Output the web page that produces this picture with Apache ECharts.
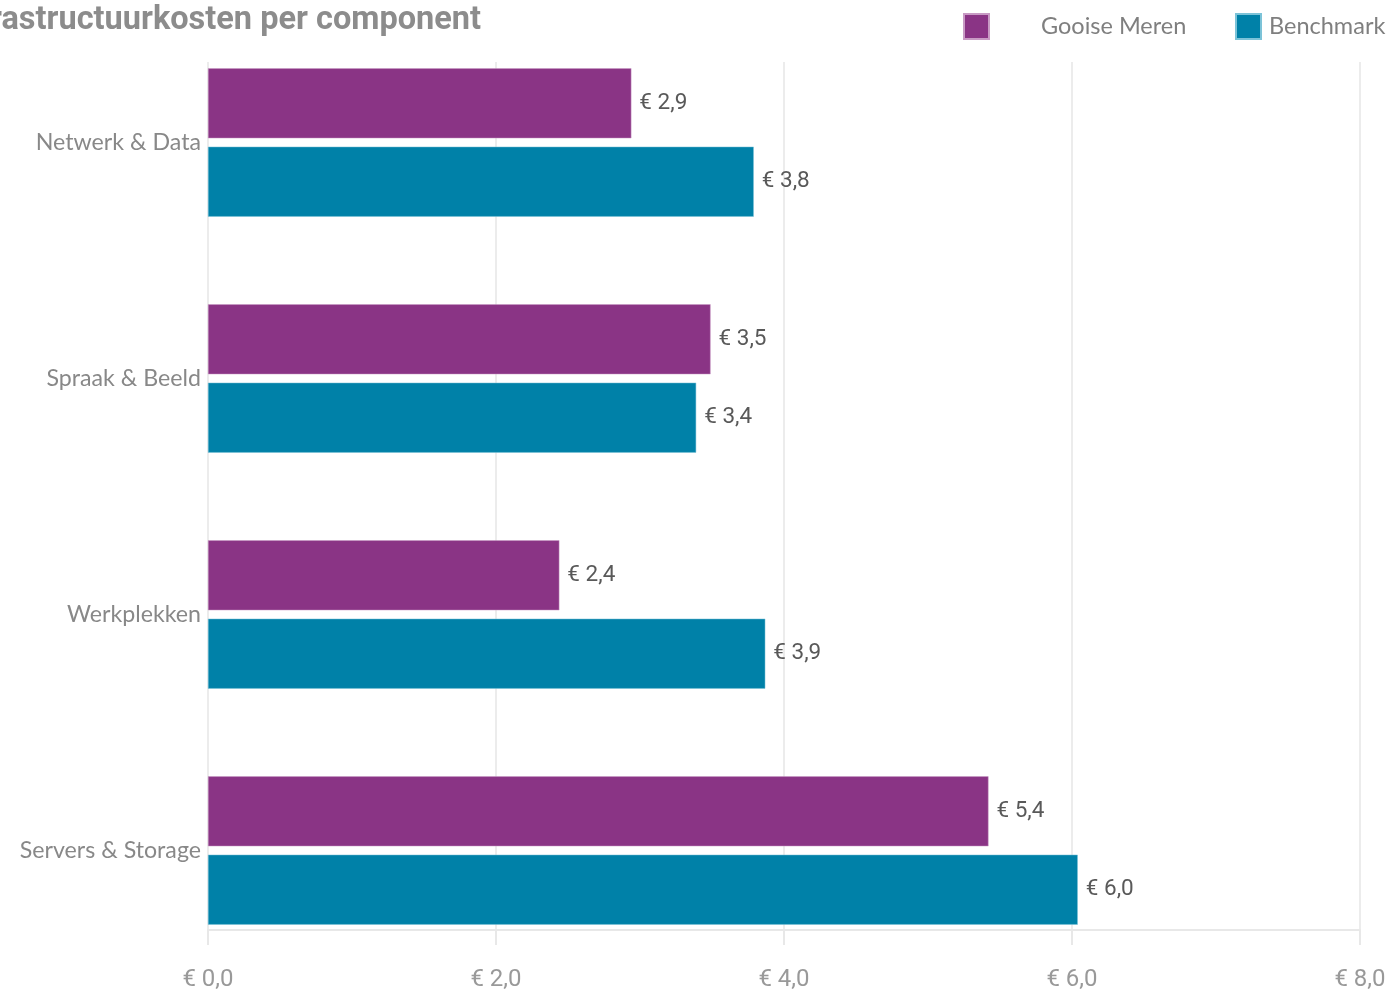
<!DOCTYPE html>
<html>
<head>
<meta charset="utf-8">
<script src="https://cdn.jsdelivr.net/npm/echarts@6/dist/echarts.min.js"></script>
<style>html,body{margin:0;padding:0;background:#fff;}#c{width:1389px;height:991px;}</style>
</head>
<body>
<div id="c"></div>
<script>
const categories = ['Netwerk & Data', 'Spraak & Beeld', 'Werkplekken', 'Servers & Storage'];
const gooiseMeren = [2.94, 3.49, 2.44, 5.42];
const benchmark = [3.79, 3.39, 3.87, 6.04];
const xTicks = [0, 2, 4, 6, 8];
const titleText = 'Infrastructuurkosten per component';

const fmt = v => '€ ' + Number(v).toFixed(1).replace('.', ',');
const chart = echarts.init(document.getElementById('c'));
chart.setOption({
  animation: false,
  backgroundColor: '#fff',
  graphic: [{
    type: 'text', x: 481, y: 21,
    style: { text: titleText, align: 'right', verticalAlign: 'middle',
      fontFamily: 'Roboto', fontWeight: 'bold', fontSize: 32.5, fill: '#8c8c8c' }
  }],
  legend: [
    { data: ['Gooise Meren'], left: 963, top: 13, padding: 0, itemWidth: 25, itemHeight: 25, icon: 'rect',
      textStyle: { fontFamily: 'Lato', fontSize: 23.5, color: '#7f7f7f', padding: [0, 0, 0, 47] } },
    { data: ['Benchmark'], left: 1235, top: 13, padding: 0, itemWidth: 25, itemHeight: 25, icon: 'rect',
      textStyle: { fontFamily: 'Lato', fontSize: 23.5, color: '#7f7f7f', padding: [0, 0, 0, 3] } }
  ],
  grid: [
    { left: 208, right: 29, top: 24.5, bottom: 22.5, outerBoundsMode: 'none', containLabel: false },
    { left: 208, right: 29, top: 62, bottom: 61, outerBoundsMode: 'none', containLabel: false }
  ],
  xAxis: [
    { gridIndex: 0, type: 'value', min: 0, max: 8, interval: 2, show: false },
    { gridIndex: 1, type: 'value', min: 0, max: 8, interval: 2,
      axisLine: { show: true, lineStyle: { color: '#e8e8e8', width: 2 } },
      axisTick: { show: true, length: 15, lineStyle: { color: '#e8e8e8', width: 2 } },
      splitLine: { show: true, lineStyle: { color: '#ececec', width: 2 } },
      axisLabel: { margin: 38, fontFamily: 'Roboto', fontSize: 24, color: '#999',
        formatter: v => xTicks.includes(v) ? fmt(v) : '' } }
  ],
  yAxis: [
    { gridIndex: 0, type: 'category', data: categories, inverse: true,
      axisLine: { show: false }, axisTick: { show: false },
      axisLabel: { margin: 7, fontFamily: 'Lato', fontSize: 23.2, color: '#888', padding: [0, 0, 4, 0] } },
    { gridIndex: 1, type: 'category', data: categories, show: false }
  ],
  series: [
    { name: 'Gooise Meren', type: 'bar', xAxisIndex: 0, yAxisIndex: 0, data: gooiseMeren,
      barWidth: 70, barGap: '12%', z: 3,
      itemStyle: { color: '#8a3485', borderColor: '#c89ac4', borderWidth: 0.5 },
      label: { show: true, position: 'right', distance: 8, formatter: p => fmt(p.value),
        fontFamily: 'Roboto', fontSize: 22.5, color: '#595959', padding: [3, 0, 0, 0] } },
    { name: 'Benchmark', type: 'bar', xAxisIndex: 0, yAxisIndex: 0, data: benchmark,
      barWidth: 70, barGap: '12%', z: 3,
      itemStyle: { color: '#0081a8', borderColor: '#7cc3d8', borderWidth: 0.5 },
      label: { show: true, position: 'right', distance: 8, formatter: p => fmt(p.value),
        fontFamily: 'Roboto', fontSize: 22.5, color: '#595959', padding: [3, 0, 0, 0] } }
  ]
});
</script>
</body>
</html>
